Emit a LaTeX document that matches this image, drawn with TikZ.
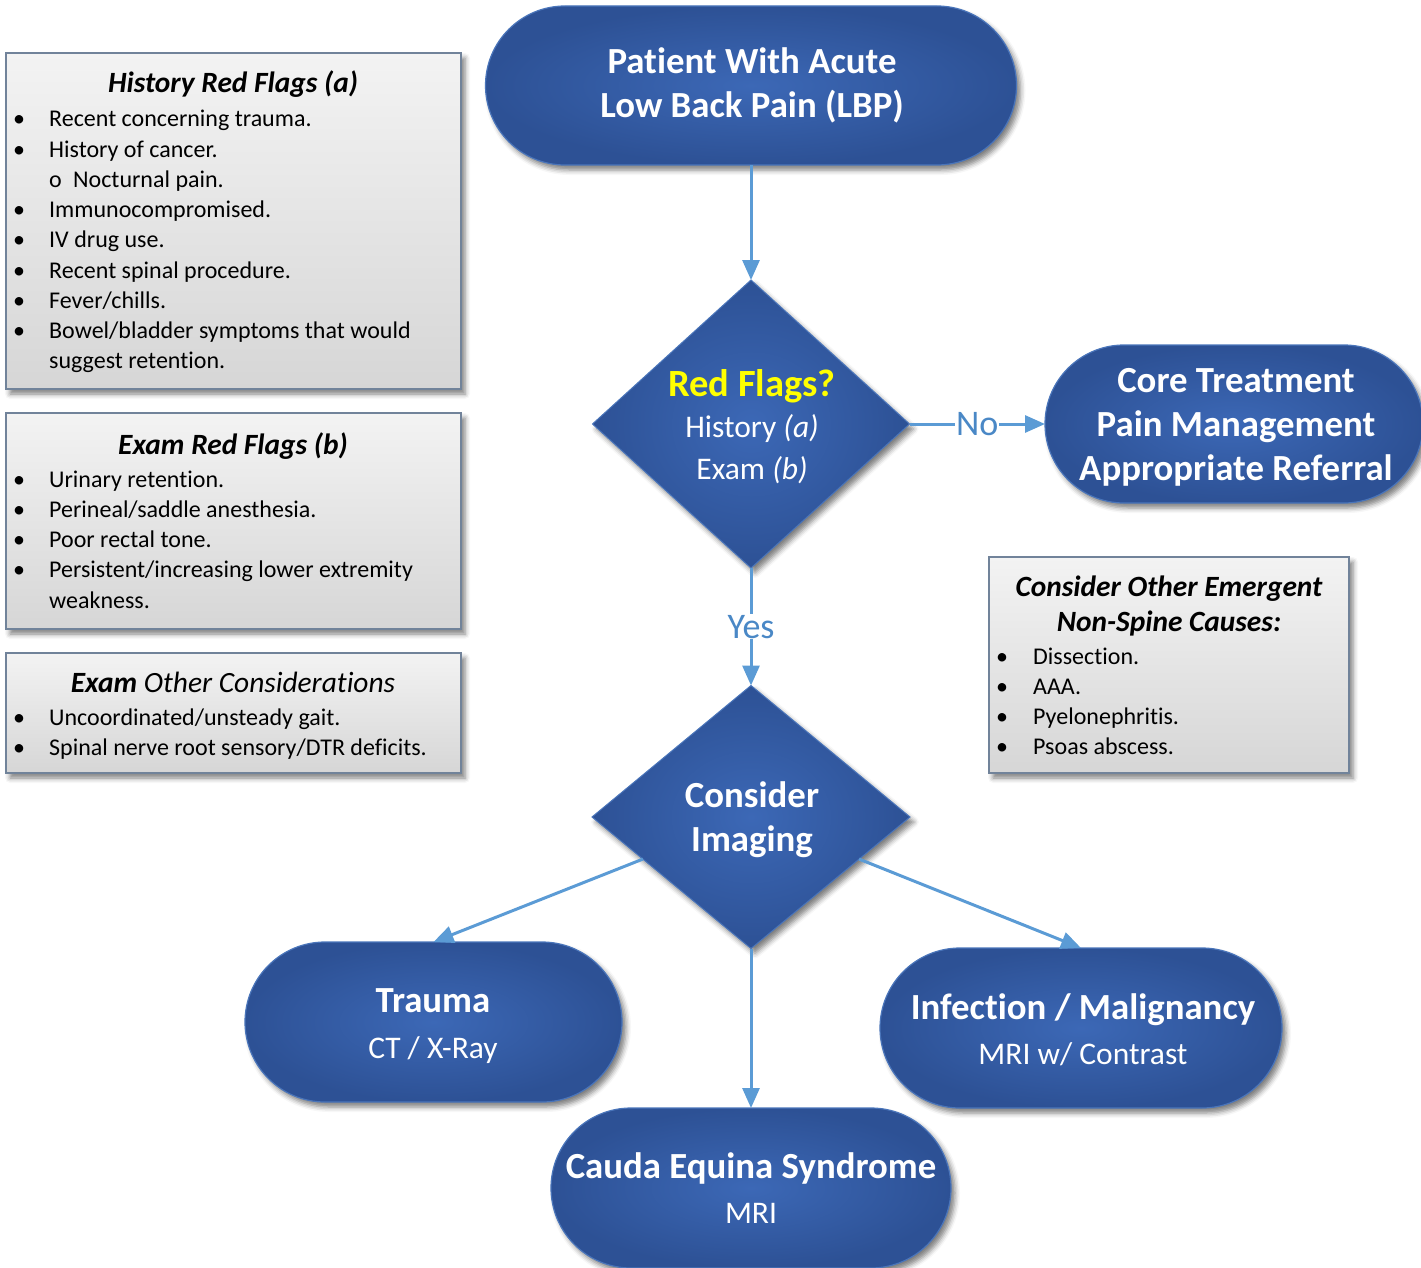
\documentclass[tikz,border=0pt]{standalone}
\usepackage{fontspec}
\setmainfont[Ligatures=NoCommon]{Carlito}
\usetikzlibrary{shapes.geometric,shapes.misc,arrows.meta,calc,shadows.blur}
\definecolor{bluein}{HTML}{3C68B6}
\definecolor{blueout}{HTML}{2D5195}
\definecolor{blueedge}{HTML}{4A75BA}
\definecolor{conn}{HTML}{5B9BD5}
\definecolor{lbl}{HTML}{4A88C6}
\definecolor{graytop}{HTML}{F3F3F3}
\definecolor{graybot}{HTML}{D6D6D6}
\definecolor{grayedge}{HTML}{71839A}
\definecolor{flagyellow}{HTML}{FFFF00}
\tikzset{
  shadowed/.style={blur shadow={shadow xshift=4pt, shadow yshift=-5pt, shadow blur radius=5pt, shadow opacity=50}},
  stadium/.style={shape=rounded rectangle, inner sep=0pt, outer sep=0pt, inner color=bluein, outer color=blueout, draw=blueedge, line width=1.2pt, shadowed},
  decision/.style={shape=diamond, inner sep=0pt, outer sep=0pt, inner color=bluein, outer color=blueout, draw=blueedge, line width=1pt, shadowed},
  graybox/.style={shape=rectangle, inner sep=0pt, outer sep=0pt, top color=graytop, bottom color=graybot, draw=grayedge, line width=1.5pt, shadowed},
  bigtext/.style={anchor=base, text=white, inner sep=0pt, font=\fontsize{36.8}{44}\selectfont\bfseries},
  subtext/.style={anchor=base, text=white, inner sep=0pt, font=\fontsize{31.5}{40}\selectfont},
  boxtitle/.style={anchor=base, text=black, inner sep=0pt, font=\fontsize{29.4}{35}\selectfont\bfseries\itshape},
  boxlist/.style={anchor=base west, text=black, inner sep=0pt, font=\fontsize{24}{30.25}\selectfont},
  connector/.style={draw=conn, line width=3pt, -{Triangle[length=20pt,width=17pt]}},
  edgelabel/.style={text=lbl, fill=white, inner sep=1pt, font=\fontsize{36}{40}\selectfont}
}
\newcommand{\bl}{\textbullet &}
\begin{document}
\begin{tikzpicture}[x=1pt,y=-1pt]
\useasboundingbox (0,0) rectangle (1421,1268);

% gray info boxes
\node[graybox, minimum width=455pt, minimum height=336pt] (hist) at (233.5,221) {};
\node[graybox, minimum width=455pt, minimum height=216pt] (examrf) at (233.5,521) {};
\node[graybox, minimum width=455pt, minimum height=120pt] (examoc) at (233.5,713) {};
\node[graybox, minimum width=360pt, minimum height=216pt] (other) at (1169,665) {};

\node[boxtitle] (histT) at (233,93) {History Red Flags (a)};
\node[boxlist] (histL) at (13,127) {\begin{tabular}[t]{@{}p{36pt}@{}l@{}}
\bl Recent concerning trauma.\\
\bl History of cancer.\\
 & \makebox[24pt][l]{o}Nocturnal pain.\\
\bl Immunocompromised.\\
\bl IV drug use.\\
\bl Recent spinal procedure.\\
\bl Fever/chills.\\
\bl Bowel/bladder symptoms that would\\
 & suggest retention.
\end{tabular}};

\node[boxtitle] (examrfT) at (233,454) {Exam Red Flags (b)};
\node[boxlist] (examrfL) at (13,487) {\begin{tabular}[t]{@{}p{36pt}@{}l@{}}
\bl Urinary retention.\\
\bl Perineal/saddle anesthesia.\\
\bl Poor rectal tone.\\
\bl Persistent/increasing lower extremity\\
 & weakness.
\end{tabular}};

\node[boxtitle] (examocT) at (233,692) {Exam {\mdseries Other Considerations}};
\node[boxlist] (examocL) at (13,725) {\begin{tabular}[t]{@{}p{36pt}@{}l@{}}
\bl Uncoordinated/unsteady gait.\\
\bl Spinal nerve root sensory/DTR deficits.
\end{tabular}};

\node[boxtitle] (otherT1) at (1169,596) {Consider Other Emergent};
\node[boxtitle] (otherT2) at (1169,631) {Non-Spine Causes:};
\node[boxlist] (otherL) at (996,664) {\begin{tabular}[t]{@{}p{37pt}@{}l@{}}
\bl Dissection.\\
\bl AAA.\\
\bl Pyelonephritis.\\
\bl Psoas abscess.
\end{tabular}};

% flow shapes
\node[stadium, minimum width=531pt, minimum height=159pt] (start) at (751,85.5) {};
\node[decision, minimum width=317pt, minimum height=288pt] (flags) at (751,424) {};
\node[stadium, minimum width=378pt, minimum height=158pt] (core) at (1234,424) {};
\node[decision, minimum width=318pt, minimum height=263pt] (imaging) at (751,817) {};
\node[stadium, minimum width=377pt, minimum height=160pt] (trauma) at (433.5,1022) {};
\node[stadium, minimum width=402pt, minimum height=160pt] (infect) at (1081,1028) {};
\node[stadium, minimum width=400pt, minimum height=160pt] (cauda) at (751,1188) {};

% texts in flow shapes
\node[bigtext] (startT1) at (752,74) {Patient With Acute};
\node[bigtext] (startT2) at (752,118) {Low Back Pain (LBP)};
\node[bigtext, text=flagyellow, font=\fontsize{38.5}{44}\selectfont\bfseries] (flagsT1) at (752,396) {Red Flags?};
\node[subtext] (flagsT2) at (752,437) {History \textit{(a)}};
\node[subtext] (flagsT3) at (752,479) {Exam \textit{(b)}};
\node[bigtext] (coreT1) at (1236,392) {Core Treatment};
\node[bigtext] (coreT2) at (1236,436) {Pain Management};
\node[bigtext] (coreT3) at (1236,480) {Appropriate Referral};
\node[bigtext] (imagingT1) at (752,807) {Consider};
\node[bigtext] (imagingT2) at (752,851) {Imaging};
\node[bigtext] (traumaT1) at (433,1012) {Trauma};
\node[subtext] (traumaT2) at (433,1058) {CT / X-Ray};
\node[bigtext] (infectT1) at (1083,1019) {Infection / Malignancy};
\node[subtext] (infectT2) at (1083,1064) {MRI w/ Contrast};
\node[bigtext] (caudaT1) at (751,1178) {Cauda Equina Syndrome};
\node[subtext] (caudaT2) at (751,1223) {MRI};

% connectors
\draw[connector] (start.south) -- (flags.north);
\draw[connector] (flags.east) -- node[edgelabel] {No} (core.west);
\draw[connector] (flags.south) -- node[edgelabel] {Yes} (imaging.north);
\draw[connector] ($(imaging.west)!0.32!(imaging.south)$) -- (trauma.north);
\draw[connector] ($(imaging.east)!0.32!(imaging.south)$) -- (infect.north);
\draw[connector] (imaging.south) -- (cauda.north);
\end{tikzpicture}
\end{document}
